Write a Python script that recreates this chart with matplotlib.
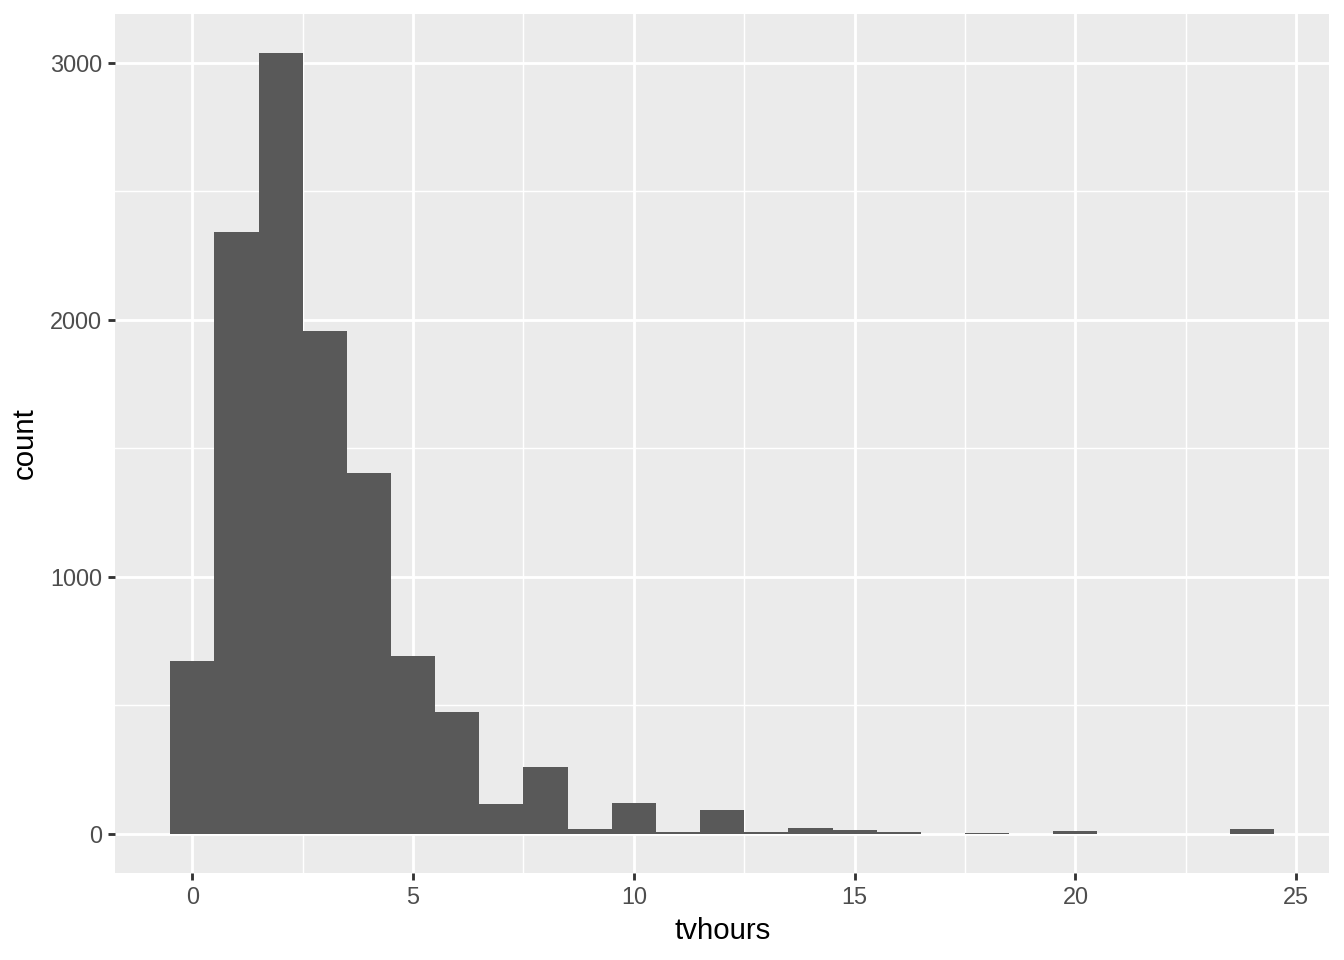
import matplotlib
matplotlib.use("Agg")
import matplotlib.pyplot as plt
import numpy as np
from matplotlib.ticker import MultipleLocator

hours = list(range(25))
counts = [673, 2342, 3039, 1957, 1405, 693, 475, 116, 260, 18, 119, 6, 92, 6, 22, 14, 6, 0, 2, 0, 12, 0, 0, 0, 19]
x_ticks = [0, 5, 10, 15, 20, 25]
y_ticks = [0, 1000, 2000, 3000]

plt.rcParams['font.family'] = ['Liberation Sans', 'DejaVu Sans']
fig = plt.figure(figsize=(7, 5), dpi=192)
ax = fig.add_axes([115/1344, 1-872.7/960, (1329.3-115)/1344, (872.7-14)/960])
ax.set_facecolor('#EBEBEB')
ax.bar(hours, counts, width=1.0, color='#595959', linewidth=0, zorder=3)

xmin, xmax = -0.5, 24.5
ax.set_xlim(xmin - 0.05*(xmax-xmin), xmax + 0.05*(xmax-xmin))
ymax = max(counts)
ax.set_ylim(-0.05*ymax, ymax*1.05)

ax.set_xticks(x_ticks)
ax.set_yticks(y_ticks)
ax.xaxis.set_minor_locator(MultipleLocator(2.5))
ax.yaxis.set_minor_locator(MultipleLocator(500))
ax.grid(which='major', color='white', linewidth=1.07, zorder=1)
ax.grid(which='minor', color='white', linewidth=0.53, zorder=1)
ax.set_axisbelow(True)
for s in ax.spines.values():
    s.set_visible(False)
ax.tick_params(which='major', length=2.75, width=1.07, color='#333333',
               labelsize=8.8, labelcolor='#4D4D4D', pad=2.2)
ax.tick_params(which='minor', length=0)
ax.set_xlabel('tvhours', fontsize=11, color='black', labelpad=3)
ax.set_ylabel('count', fontsize=11, color='black', labelpad=4)

fig.savefig('out.png', dpi=192, facecolor='white')
